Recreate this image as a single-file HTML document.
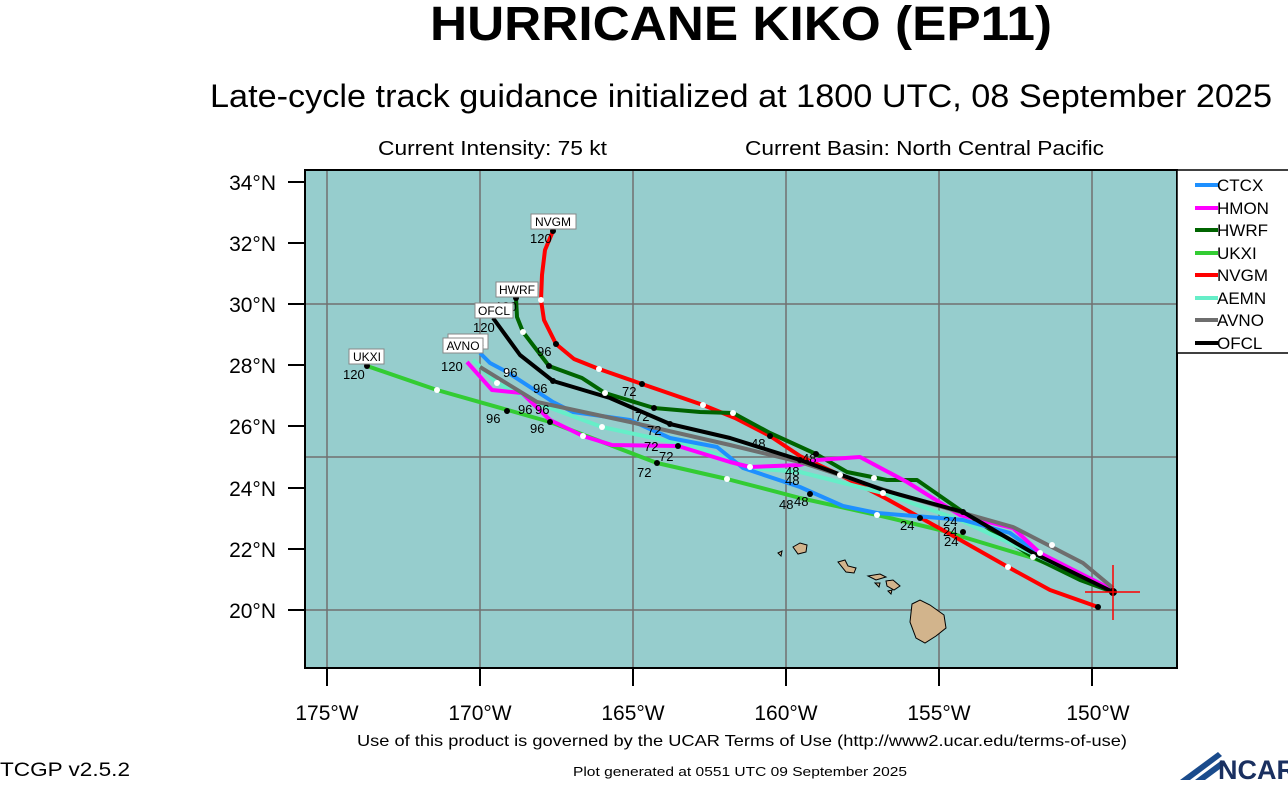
<!DOCTYPE html>
<html><head><meta charset="utf-8"><style>
body{margin:0;background:#fff;width:1288px;height:780px;overflow:hidden;font-family:"Liberation Sans",sans-serif}
</style></head><body>
<svg width="1288" height="780" xmlns="http://www.w3.org/2000/svg" font-family="Liberation Sans, sans-serif">
<text x="430" y="40" font-size="48" font-weight="bold" textLength="622" lengthAdjust="spacingAndGlyphs">HURRICANE KIKO (EP11)</text>
<text x="210" y="107" font-size="32" textLength="1062" lengthAdjust="spacingAndGlyphs">Late-cycle track guidance initialized at 1800 UTC, 08 September 2025</text>
<text x="378" y="155" font-size="20" textLength="229" lengthAdjust="spacingAndGlyphs">Current Intensity: 75 kt</text>
<text x="745" y="155" font-size="20" textLength="359" lengthAdjust="spacingAndGlyphs">Current Basin: North Central Pacific</text>
<rect x="305" y="170" width="872" height="498" fill="#96cdcd"/>
<g stroke="#707070" stroke-width="1.5">
<line x1="327" y1="170" x2="327" y2="668"/><line x1="480" y1="170" x2="480" y2="668"/><line x1="633" y1="170" x2="633" y2="668"/><line x1="786" y1="170" x2="786" y2="668"/><line x1="939" y1="170" x2="939" y2="668"/><line x1="1092" y1="170" x2="1092" y2="668"/>
<line x1="305" y1="304" x2="1177" y2="304"/><line x1="305" y1="457" x2="1177" y2="457"/><line x1="305" y1="610" x2="1177" y2="610"/>
</g>
<g fill="#d2b48c" stroke="#000" stroke-width="1">
<path d="M793,547 L800,543 L807,545 L806,552 L798,554 Z"/>
<path d="M778,553 L782,551 L781,556 Z"/>
<path d="M838,562 L845,560 L848,566 L856,568 L854,573 L846,572 Z"/>
<path d="M868,576 L880,574 L886,577 L876,580 Z"/>
<path d="M875,583 L880,583 L879,587 Z"/>
<path d="M886,581 L893,580 L900,586 L894,590 L887,586 Z"/>
<path d="M888,591 L892,590 L891,594 Z"/>
<path d="M912,604 L920,600 L930,605 L944,615 L946,628 L936,636 L925,643 L916,638 L910,622 Z"/>
</g>
<g fill="none" stroke-width="4" stroke-linejoin="round">
<polyline stroke="#33cc33" points="367,366 437,390 550,422 657,463 727,479 800,498 877,515 940,530 1033,558 1113,590"/>
<polyline stroke="#ff0000" points="553,231 545,250 542,275 541,300 544,320 556,344 574,359 599,369 642,384 703,405 735,418 770,436 800,456 840,475 885,498 948,533 1008,567 1050,590 1098,607"/>
<polyline stroke="#006400" points="516,298 517,317 523,332 549,366 582,378 605,393 654,408 700,412 733,413 770,433 816,454 847,472 887,480 917,480 963,512 1033,557 1080,580 1113,592"/>
<polyline stroke="#66eec8" points="473,360 497,383 537,403 602,427 700,448 750,468 800,472 883,493 960,520 1040,557 1113,590"/>
<polyline stroke="#1e90ff" points="480,353 490,363 507,372 553,402 573,412 630,420 670,438 717,447 743,468 800,487 843,506 877,513 940,518 963,520 1010,533 1040,555 1113,592"/>
<polyline stroke="#ff00ff" points="467,362 492,390 522,393 550,420 583,436 612,445 678,446 730,462 750,467 800,465 817,460 860,457 907,482 960,515 1013,528 1040,553 1113,590"/>
<polyline stroke="#6e6e6e" points="480,367 537,402 630,422 730,445 800,462 900,495 960,512 1013,527 1083,563 1113,588"/>
<polyline stroke="#000" points="493,318 520,355 553,381 610,398 670,424 730,438 800,460 883,490 963,512 1033,553 1113,592"/>
</g>
<g fill="#000">
<circle cx="553" cy="231" r="3"/><circle cx="556" cy="344" r="3"/><circle cx="642" cy="384" r="3"/><circle cx="770" cy="436" r="3"/><circle cx="1098" cy="607" r="3"/>
<circle cx="516" cy="298" r="3"/><circle cx="549" cy="366" r="3"/><circle cx="654" cy="408" r="3"/><circle cx="816" cy="454" r="3"/><circle cx="963" cy="512" r="3"/>
<circle cx="553" cy="381" r="3"/><circle cx="670" cy="424" r="3"/><circle cx="800" cy="460" r="3"/><circle cx="367" cy="366" r="3"/><circle cx="657" cy="463" r="3"/><circle cx="507" cy="411" r="3"/>
<circle cx="550" cy="422" r="3"/><circle cx="678" cy="446" r="3"/><circle cx="810" cy="494" r="3"/><circle cx="920" cy="518" r="3"/><circle cx="963" cy="532" r="3"/><circle cx="1113" cy="592" r="4"/>
</g>
<g fill="#fff">
<circle cx="541" cy="300" r="3"/><circle cx="599" cy="369" r="3"/><circle cx="703" cy="405" r="3"/><circle cx="840" cy="475" r="3"/><circle cx="1008" cy="567" r="3"/>
<circle cx="523" cy="332" r="3"/><circle cx="605" cy="393" r="3"/><circle cx="733" cy="413" r="3"/><circle cx="874" cy="478" r="3"/><circle cx="1033" cy="557" r="3"/>
<circle cx="437" cy="390" r="3"/><circle cx="583" cy="436" r="3"/><circle cx="602" cy="427" r="3"/><circle cx="507" cy="372" r="3"/><circle cx="727" cy="479" r="3"/><circle cx="877" cy="515" r="3"/><circle cx="1040" cy="553" r="3"/><circle cx="1052" cy="545" r="3"/>
<circle cx="750" cy="467" r="3"/><circle cx="883" cy="493" r="3"/><circle cx="497" cy="383" r="3"/>
</g>
<g stroke="#ff0000" stroke-width="1.5"><line x1="1085" y1="592" x2="1140" y2="592"/><line x1="1113" y1="565" x2="1113" y2="620"/></g>
<g font-size="13" fill="#000">
<text x="530" y="243">120</text><text x="495" y="311">120</text><text x="473" y="332">120</text><text x="343" y="379">120</text><text x="441" y="371">120</text>
<text x="537" y="356">96</text><text x="503" y="377">96</text><text x="533" y="393">96</text><text x="518" y="414">96</text><text x="486" y="423">96</text><text x="530" y="433">96</text><text x="535" y="414">96</text>
<text x="622" y="396">72</text><text x="635" y="421">72</text><text x="647" y="435">72</text><text x="644" y="451">72</text><text x="659" y="461">72</text><text x="637" y="477">72</text>
<text x="751" y="448">48</text><text x="785" y="476">48</text><text x="785" y="485">48</text><text x="779" y="509">48</text><text x="794" y="506">48</text><text x="802" y="463">48</text>
<text x="900" y="530">24</text><text x="943" y="526">24</text><text x="943" y="536">24</text><text x="944" y="546">24</text>
</g>
<g font-size="12" text-anchor="middle">
<rect x="531" y="214" width="45" height="15" fill="#fff" stroke="#888"/><text x="553" y="226">NVGM</text>
<rect x="496" y="282" width="42" height="15" fill="#fff" stroke="#888"/><text x="517" y="294">HWRF</text>
<rect x="475" y="303" width="38" height="15" fill="#fff" stroke="#888"/><text x="494" y="315">OFCL</text>
<rect x="448" y="334" width="40" height="15" fill="#fff" stroke="#888"/><text x="480" y="346">X</text>
<rect x="443" y="338" width="40" height="15" fill="#fff" stroke="#888"/><text x="463" y="350">AVNO</text>
<rect x="349" y="349" width="35" height="15" fill="#fff" stroke="#888"/><text x="367" y="361">UKXI</text>
</g>
<rect x="305" y="170" width="872" height="498" fill="none" stroke="#000" stroke-width="2"/>
<g stroke="#000" stroke-width="2">
<line x1="288" y1="182" x2="305" y2="182"/><line x1="288" y1="243" x2="305" y2="243"/><line x1="288" y1="304" x2="305" y2="304"/><line x1="288" y1="365" x2="305" y2="365"/><line x1="288" y1="426" x2="305" y2="426"/><line x1="288" y1="488" x2="305" y2="488"/><line x1="288" y1="549" x2="305" y2="549"/><line x1="288" y1="610" x2="305" y2="610"/>
<line x1="327" y1="668" x2="327" y2="686"/><line x1="480" y1="668" x2="480" y2="686"/><line x1="633" y1="668" x2="633" y2="686"/><line x1="786" y1="668" x2="786" y2="686"/><line x1="939" y1="668" x2="939" y2="686"/><line x1="1092" y1="668" x2="1092" y2="686"/>
</g>
<g font-size="21" text-anchor="end">
<text x="276" y="190">34°N</text><text x="276" y="251">32°N</text><text x="276" y="312">30°N</text><text x="276" y="373">28°N</text><text x="276" y="434">26°N</text><text x="276" y="496">24°N</text><text x="276" y="557">22°N</text><text x="276" y="618">20°N</text>
</g>
<g font-size="21" text-anchor="middle">
<text x="327" y="720">175°W</text><text x="480" y="720">170°W</text><text x="633" y="720">165°W</text><text x="786" y="720">160°W</text><text x="939" y="720">155°W</text><text x="1098" y="720">150°W</text>
</g>
<rect x="1177" y="170" width="112" height="183" fill="#fff" stroke="#000" stroke-width="1.5"/>
<g stroke-width="4">
<line x1="1195" y1="185" x2="1218" y2="185" stroke="#1e90ff"/><line x1="1195" y1="208" x2="1218" y2="208" stroke="#ff00ff"/><line x1="1195" y1="230" x2="1218" y2="230" stroke="#006400"/><line x1="1195" y1="253" x2="1218" y2="253" stroke="#33cc33"/><line x1="1195" y1="275" x2="1218" y2="275" stroke="#ff0000"/><line x1="1195" y1="298" x2="1218" y2="298" stroke="#66eec8"/><line x1="1195" y1="320" x2="1218" y2="320" stroke="#6e6e6e"/><line x1="1195" y1="343" x2="1218" y2="343" stroke="#000"/>
</g>
<g font-size="17">
<text x="1217" y="191">CTCX</text><text x="1217" y="214">HMON</text><text x="1217" y="236">HWRF</text><text x="1217" y="259">UKXI</text><text x="1217" y="281">NVGM</text><text x="1217" y="304">AEMN</text><text x="1217" y="326">AVNO</text><text x="1217" y="349">OFCL</text>
</g>
<text x="357" y="746" font-size="16" textLength="770" lengthAdjust="spacingAndGlyphs">Use of this product is governed by the UCAR Terms of Use (http://www2.ucar.edu/terms-of-use)</text>
<text x="0" y="776" font-size="19" textLength="130" lengthAdjust="spacingAndGlyphs">TCGP v2.5.2</text>
<text x="573" y="776" font-size="13" textLength="334" lengthAdjust="spacingAndGlyphs">Plot generated at 0551 UTC   09 September 2025</text>
<g fill="#1a4b8c"><path d="M1180,780 L1218,752 L1222,756 L1190,780 Z"/><path d="M1195,780 L1222,760 L1224,766 L1205,780 Z"/></g>
<text x="1218" y="779" font-size="27" font-weight="bold" fill="#1a3060">NCAR</text>
</svg>
</body></html>
